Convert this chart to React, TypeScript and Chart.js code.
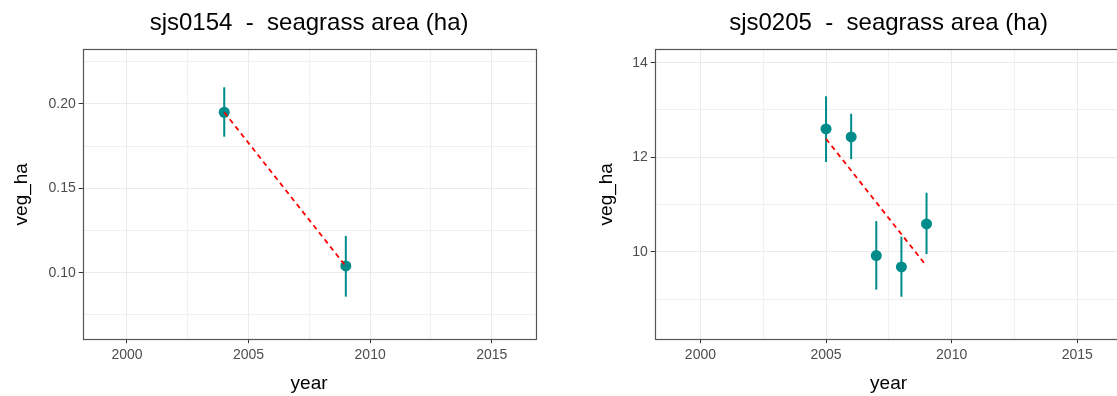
import React, { useEffect, useRef } from "react";
import { Chart, registerables } from "chart.js";

Chart.register(...registerables);

// ---- shared x axis ----
const xRange = [1998.18, 2016.8];
const xTicks = [2000, 2002.5, 2005, 2007.5, 2010, 2012.5, 2015];
const xMajor = [2000, 2005, 2010, 2015];

// ---- panel 1: sjs0154 ----
const title1 = "sjs0154  -  seagrass area (ha)";
const years1 = [2004, 2009];
const veg1 = [0.1951, 0.104];
const low1 = [0.1806, 0.0858];
const high1 = [0.2099, 0.1218];
const trendYears1 = [2004, 2009];
const trend1 = [0.1951, 0.1038];
const yRange1 = [0.0606, 0.2324];
const yTicks1 = [0.075, 0.1, 0.125, 0.15, 0.175, 0.2, 0.225];
const yMajor1 = [0.1, 0.15, 0.2];

// ---- panel 2: sjs0205 ----
const title2 = "sjs0205  -  seagrass area (ha)";
const years2 = [2005, 2006, 2007, 2008, 2009];
const veg2 = [12.6, 12.43, 9.92, 9.68, 10.59];
const low2 = [11.9, 11.96, 9.2, 9.05, 9.95];
const high2 = [13.29, 12.92, 10.65, 10.32, 11.25];
const trendYears2 = [2005, 2009];
const trend2 = [12.39, 9.7];
const yRange2 = [8.152, 14.283];
const yTicks2 = [9, 10, 11, 12, 13, 14];
const yMajor2 = [10, 12, 14];

const FONT = "'Liberation Sans', Arial, sans-serif";
const TEAL = "#008B8B";

function isIn(list: number[], v: number) {
  return list.some((m) => Math.abs(m - v) < 1e-9);
}

type PanelProps = {
  title: string;
  years: number[];
  veg: number[];
  low: number[];
  high: number[];
  trendYears: number[];
  trend: number[];
  yRange: number[];
  yTicks: number[];
  yMajor: number[];
  yFmt: (v: number) => string;
  width: number;
  padLeft: number;
  yAxisWidth: number;
  padRight: number;
};

function Panel(p: PanelProps) {
  const ref = useRef<HTMLCanvasElement | null>(null);
  useEffect(() => {
    if (!ref.current) return;
    const errorBars = {
      id: "errorBars",
      beforeDatasetsDraw(chart: any) {
        const ctx = chart.ctx;
        const xs = chart.scales.x;
        const ys = chart.scales.y;
        ctx.save();
        ctx.strokeStyle = TEAL;
        ctx.lineWidth = 2;
        p.years.forEach((yr, i) => {
          const x = xs.getPixelForValue(yr);
          ctx.beginPath();
          ctx.moveTo(x, ys.getPixelForValue(p.low[i]));
          ctx.lineTo(x, ys.getPixelForValue(p.high[i]));
          ctx.stroke();
        });
        ctx.restore();
      },
    };
    const border = {
      id: "panelBorder",
      afterDatasetsDraw(chart: any) {
        const { left, top, right, bottom } = chart.chartArea;
        const ctx = chart.ctx;
        ctx.save();
        ctx.strokeStyle = "#555555";
        ctx.lineWidth = 1.2;
        ctx.strokeRect(
          Math.round(left) + 0.5,
          Math.round(top) + 0.5,
          Math.round(right) - Math.round(left),
          Math.round(bottom) - Math.round(top)
        );
        ctx.restore();
      },
    };
    const chart = new Chart(ref.current, {
      type: "scatter",
      data: {
        datasets: [
          {
            type: "line",
            data: p.trendYears.map((x, i) => ({ x, y: p.trend[i] })),
            borderColor: "#FF0000",
            borderWidth: 1.8,
            borderDash: [5, 4],
            pointRadius: 0,
            fill: false,
            order: 0,
          } as any,
          {
            type: "scatter",
            data: p.years.map((x, i) => ({ x, y: p.veg[i] })),
            backgroundColor: TEAL,
            borderColor: TEAL,
            pointRadius: 5.5,
            pointBorderWidth: 0,
            order: 1,
          } as any,
        ],
      },
      options: {
        responsive: false,
        animation: false,
        layout: { padding: { left: p.padLeft, right: p.padRight, top: 0, bottom: 0 } },
        plugins: {
          legend: { display: false },
          tooltip: { enabled: false },
          title: {
            display: true,
            text: p.title,
            fullSize: false,
            color: "#000000",
            font: { family: FONT, size: 24, weight: "normal", lineHeight: 1.2 },
            padding: { top: 9, bottom: 11.5 },
          },
        },
        scales: {
          x: {
            type: "linear",
            min: xRange[0],
            max: xRange[1],
            afterBuildTicks: (s: any) => {
              s.ticks = xTicks.map((v) => ({ value: v }));
            },
            afterFit: (s: any) => {
              s.height = 56.8;
            },
            border: { display: false },
            grid: {
              color: (c: any) => (c.tick && isIn(xMajor, c.tick.value) ? "#EBEBEB" : "#F1F1F1"),
              tickColor: (c: any) =>
                c.tick && isIn(xMajor, c.tick.value) ? "#333333" : "rgba(0,0,0,0)",
              tickLength: 4,
              lineWidth: 1,
            },
            ticks: {
              autoSkip: false,
              maxRotation: 0,
              padding: 4,
              color: "#4D4D4D",
              font: { family: FONT, size: 14 },
              callback: (v: any) => (isIn(xMajor, Number(v)) ? String(v) : ""),
            },
            title: {
              display: true,
              text: "year",
              color: "#000000",
              font: { family: FONT, size: 19, lineHeight: 1.2 },
              padding: { top: 0, bottom: 1 },
            },
          },
          y: {
            type: "linear",
            min: p.yRange[0],
            max: p.yRange[1],
            afterBuildTicks: (s: any) => {
              s.ticks = p.yTicks.map((v) => ({ value: v }));
            },
            afterFit: (s: any) => {
              s.width = p.yAxisWidth;
            },
            border: { display: false },
            grid: {
              color: (c: any) => (c.tick && isIn(p.yMajor, c.tick.value) ? "#EBEBEB" : "#F1F1F1"),
              tickColor: (c: any) =>
                c.tick && isIn(p.yMajor, c.tick.value) ? "#333333" : "rgba(0,0,0,0)",
              tickLength: 4,
              lineWidth: 1,
            },
            ticks: {
              autoSkip: false,
              padding: 3,
              color: "#4D4D4D",
              font: { family: FONT, size: 14 },
              callback: (v: any) => (isIn(p.yMajor, Number(v)) ? p.yFmt(Number(v)) : ""),
            },
            title: {
              display: true,
              text: "veg_ha",
              color: "#000000",
              font: { family: FONT, size: 19, lineHeight: 1.2 },
              padding: { top: 10, bottom: 0 },
            },
          },
        },
      },
      plugins: [errorBars, border],
    } as any);
    return () => chart.destroy();
  }, []);
  return <canvas ref={ref} width={p.width} height={396} style={{ display: "block" }} />;
}

export default function App() {
  return (
    <div
      style={{
        position: "fixed",
        left: 0,
        top: 0,
        width: 1117,
        height: 396,
        overflow: "hidden",
        background: "#ffffff",
      }}
    >
      <div style={{ position: "absolute", left: 0, top: 0 }}>
        <Panel
          title={title1}
          years={years1}
          veg={veg1}
          low={low1}
          high={high1}
          trendYears={trendYears1}
          trend={trend1}
          yRange={yRange1}
          yTicks={yTicks1}
          yMajor={yMajor1}
          yFmt={(v) => v.toFixed(2)}
          width={560}
          padLeft={0}
          yAxisWidth={82.7}
          padRight={24.5}
        />
      </div>
      <div style={{ position: "absolute", left: 560, top: 0 }}>
        <Panel
          title={title2}
          years={years2}
          veg={veg2}
          low={low2}
          high={high2}
          trendYears={trendYears2}
          trend={trend2}
          yRange={yRange2}
          yTicks={yTicks2}
          yMajor={yMajor2}
          yFmt={(v) => String(v)}
          width={580}
          padLeft={25}
          yAxisWidth={69.7}
          padRight={17.5}
        />
      </div>
    </div>
  );
}
